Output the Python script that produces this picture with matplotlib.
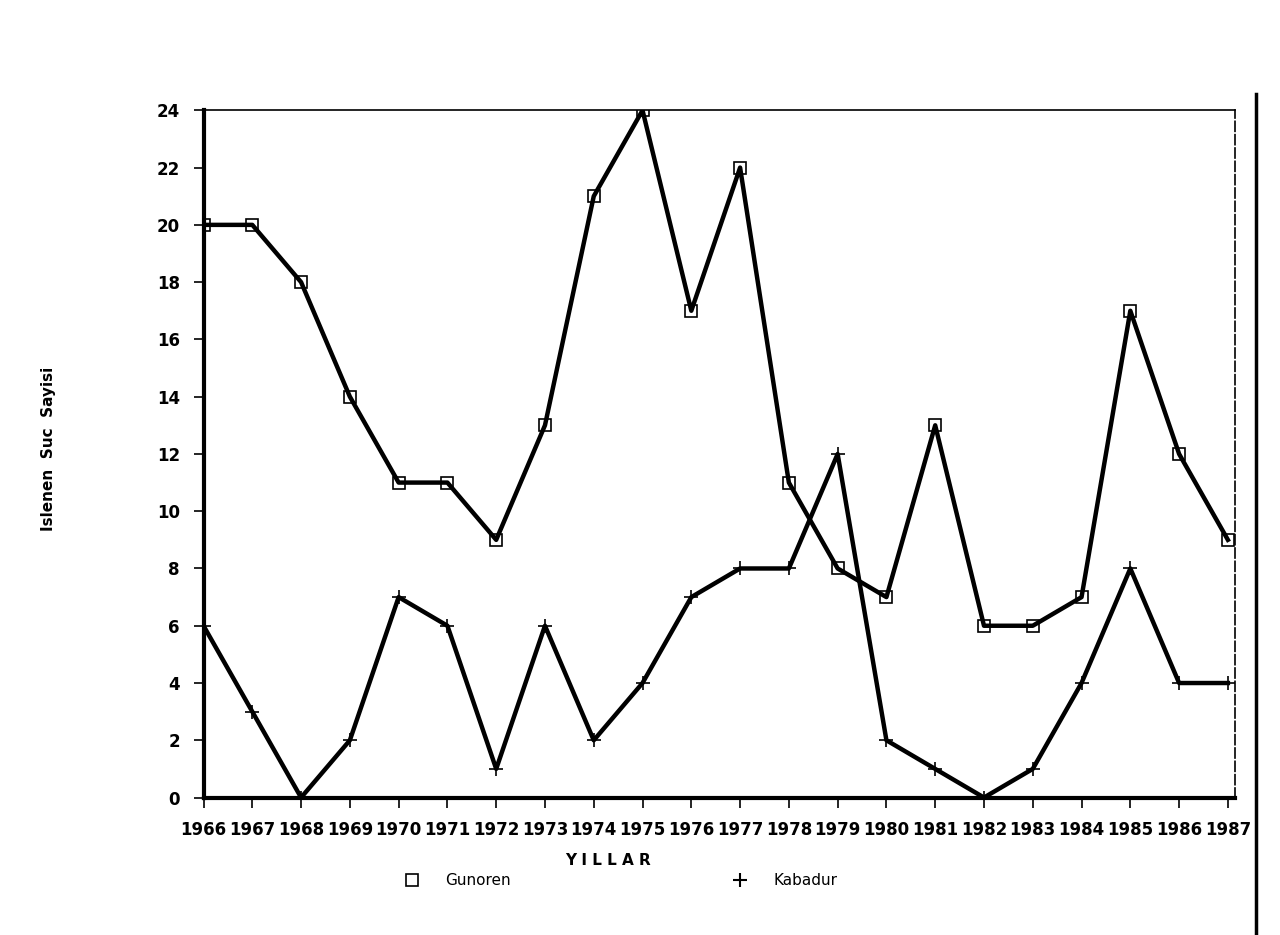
import matplotlib.pyplot as plt
from matplotlib.lines import Line2D

# Islenen suc sayisi, 1966-1987
years = list(range(1966, 1988))
gunoren = [20, 20, 18, 14, 11, 11, 9, 13, 21, 24, 17, 22, 11, 8, 7, 13, 6, 6, 7, 17, 12, 9]
kabadur = [6, 3, 0, 2, 7, 6, 1, 6, 2, 4, 7, 8, 8, 12, 2, 1, 0, 1, 4, 8, 4, 4]
year_labels = [str(y) for y in years]
y_ticks = list(range(0, 25, 2))


def main():
    fig = plt.figure(figsize=(12.8, 9.35), dpi=100)
    ax = fig.add_axes([0.159, 0.147, 0.806, 0.735])

    ax.plot(years, gunoren, color='black', lw=3.2, marker='s', ms=8,
            mfc='none', mec='black', mew=1.2, label='Gunoren')
    ax.plot(years, kabadur, color='black', lw=3.2, marker='+', ms=10,
            mew=1.2, label='Kabadur')

    ax.set_xlim(1966, 1987.15)
    ax.set_ylim(0, 24)
    ax.set_yticks(y_ticks)
    ax.set_yticklabels([str(t) for t in y_ticks], fontsize=12, fontweight='bold')
    ax.set_xticks(years)
    ax.set_xticklabels(year_labels, fontsize=12, fontweight='bold')
    ax.tick_params(axis='y', direction='out', length=7, width=1.2, pad=10)
    ax.tick_params(axis='x', direction='out', length=7, width=1.2, pad=10)

    ax.spines['left'].set_linewidth(3)
    ax.spines['bottom'].set_linewidth(3)
    ax.spines['top'].set_linewidth(1.2)
    ax.spines['right'].set_linewidth(1.2)
    ax.spines['right'].set_linestyle((0, (6, 2)))

    fig.text(0.475, 0.08, 'Y I L L A R', ha='center', va='center',
             fontsize=11, fontweight='bold')
    fig.text(0.038, 0.52, 'Islenen  Suc  Sayisi', rotation=90, ha='center',
             va='center', fontsize=11, fontweight='bold')

    handles = [Line2D([], [], color='black', marker='s', ls='none', ms=8,
                      mfc='none', mew=1.2),
               Line2D([], [], color='black', marker='+', ls='none', ms=10,
                      mew=1.5)]
    fig.legend(handles, ['Gunoren', 'Kabadur'], loc='center',
               bbox_to_anchor=(0.482, 0.058), ncol=2, frameon=False,
               fontsize=11, handletextpad=1.2, columnspacing=14)

    # page edge on the right
    fig.add_artist(Line2D([0.981, 0.981], [0.0, 0.9], color='black', lw=2.5))

    fig.savefig('out.png', dpi=100)


if __name__ == "__main__":
    main()
